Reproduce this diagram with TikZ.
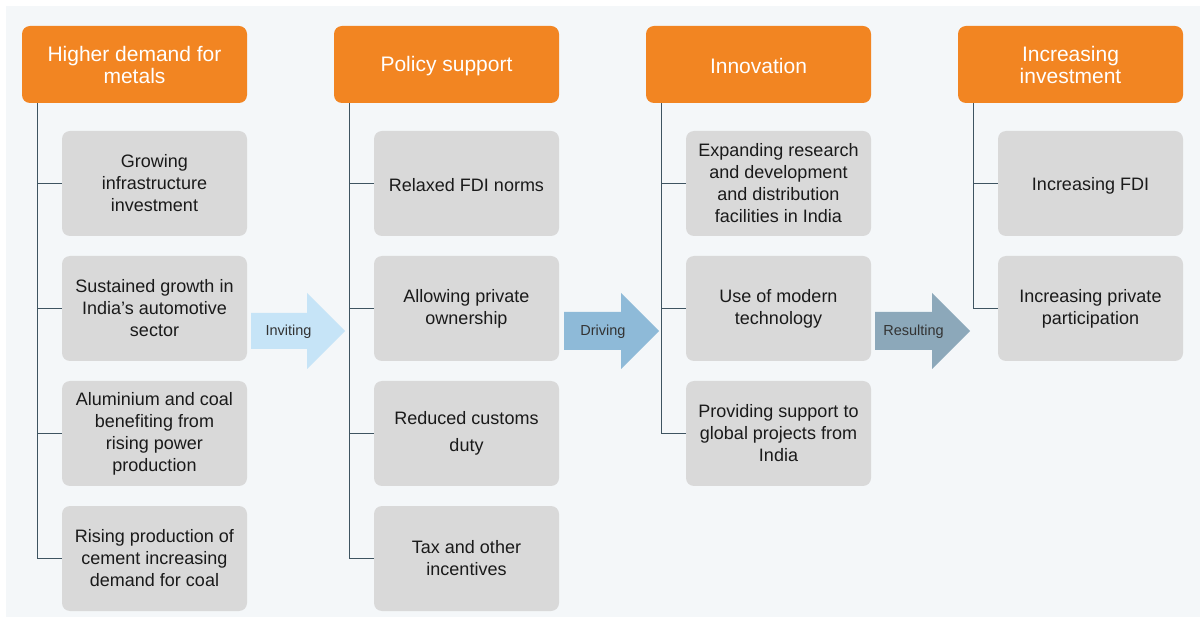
\documentclass[tikz,border=0pt]{standalone}
\usepackage{fontspec}
\setmainfont{Liberation Sans}
\definecolor{panel}{HTML}{F4F7F9}
\definecolor{hdr}{HTML}{F28522}
\definecolor{cbox}{HTML}{D9D9D9}
\definecolor{conn}{HTML}{3E5461}
\definecolor{txt}{HTML}{1A1A1A}
\definecolor{arrA}{HTML}{C6E4F7}
\definecolor{arrB}{HTML}{8EBAD8}
\definecolor{arrC}{HTML}{8CA8BA}
\definecolor{albl}{HTML}{333333}
\newcommand\lowtxt[2][2pt]{\raisebox{-#1}[\height][\depth]{#2}}
\tikzset{
  hdrbox/.style={fill=hdr, rounded corners=8pt, minimum width=225pt, minimum height=77pt, inner sep=0pt, text=white, align=center, font=\fontsize{21}{22}\selectfont},
  kidbox/.style={fill=cbox, rounded corners=8pt, minimum width=185pt, minimum height=105pt, inner sep=0pt, text=txt, align=center, font=\fontsize{18}{22}\selectfont},
  link/.style={draw=conn, line width=1.1pt},
  arrlbl/.style={text=albl, font=\fontsize{14.5}{16}\selectfont, inner sep=0pt}
}
\begin{document}
\begin{tikzpicture}[x=1pt,y=-1pt]
\useasboundingbox (0,0) rectangle (1200,617);
\fill[white] (0,0) rectangle (1200,617);
\fill[panel] (6,6) rectangle (1200,617);
% headers
\node[hdrbox] (h1) at (134.5,64.5) {Higher demand for\\metals};
\node[hdrbox] (h2) at (446.5,64.5) {\lowtxt{Policy support}};
\node[hdrbox] (h3) at (758.5,64.5) {\lowtxt[1pt]{Innovation}};
\node[hdrbox] (h4) at (1070.5,64.5) {Increasing\\investment};
% column 1
\node[kidbox] (a1) at (154.5,183.5) {Growing\\infrastructure\\investment};
\node[kidbox] (a2) at (154.5,308.5) {Sustained growth in\\India’s automotive\\sector};
\node[kidbox] (a3) at (154.5,433.5) {Aluminium and coal\\benefiting from\\rising power\\production};
\node[kidbox] (a4) at (154.5,558.5) {Rising production of\\cement increasing\\demand for coal};
% column 2
\node[kidbox] (b1) at (466.5,183.5) {\lowtxt{Relaxed FDI norms}};
\node[kidbox] (b2) at (466.5,308.5) {Allowing private\\ownership};
\node[kidbox, font=\fontsize{18}{27}\selectfont] (b3) at (466.5,433.5) {Reduced customs\\duty};
\node[kidbox] (b4) at (466.5,558.5) {Tax and other\\incentives};
% column 3
\node[kidbox] (c1) at (778.5,183.5) {Expanding research\\and development\\and distribution\\facilities in India};
\node[kidbox] (c2) at (778.5,308.5) {Use of modern\\technology};
\node[kidbox] (c3) at (778.5,433.5) {Providing support to\\global projects from\\India};
% column 4
\node[kidbox] (d1) at (1090.5,183.5) {\lowtxt{Increasing FDI}};
\node[kidbox] (d2) at (1090.5,308.5) {Increasing private\\participation};
% connectors
\foreach \k in {a1,a2,a3,a4}{\draw[link] ([xshift=16pt]h1.south west) |- (\k.west);}
\foreach \k in {b1,b2,b3,b4}{\draw[link] ([xshift=16pt]h2.south west) |- (\k.west);}
\foreach \k in {c1,c2,c3}{\draw[link] ([xshift=16pt]h3.south west) |- (\k.west);}
\foreach \k in {d1,d2}{\draw[link] ([xshift=16pt]h4.south west) |- (\k.west);}
% block arrows
\fill[arrA] (251,313) -- (307,313) -- (307,293) -- (345,331) -- (307,369) -- (307,349) -- (251,349) -- cycle;
\node[arrlbl] (l1) at (288.5,332) {Inviting};
\fill[arrB] (564,312) -- (621,312) -- (621,293) -- (659,331) -- (621,369) -- (621,350) -- (564,350) -- cycle;
\node[arrlbl] (l2) at (603,332) {Driving};
\fill[arrC] (875,312) -- (932,312) -- (932,293) -- (970,331) -- (932,369) -- (932,350) -- (875,350) -- cycle;
\node[arrlbl] (l3) at (913.5,332) {Resulting};
\end{tikzpicture}
\end{document}
